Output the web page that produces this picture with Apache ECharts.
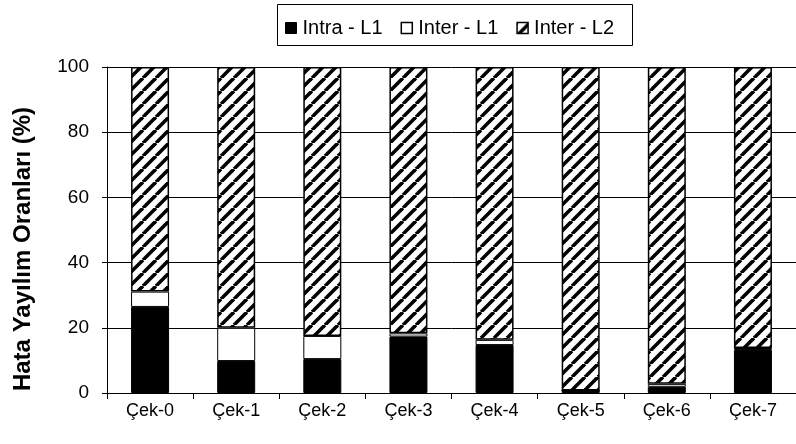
<!DOCTYPE html>
<html>
<head>
<meta charset="utf-8">
<script src="https://cdn.jsdelivr.net/npm/echarts@6/dist/echarts.min.js"></script>
<style>
  html, body { margin: 0; padding: 0; background: #fff; }
  #chart { width: 796px; height: 444px; }
</style>
</head>
<body>
<div id="chart"></div>
<script>
// Error distribution per check (percent), stacked to 100
const categories = ['Çek-0', 'Çek-1', 'Çek-2', 'Çek-3', 'Çek-4', 'Çek-5', 'Çek-6', 'Çek-7'];
const intraL1 = [26.4, 9.8, 10.4, 17.3, 14.7, 0.8, 1.9, 13.2];
const interL1 = [4.7, 10.2, 7.1, 1.0, 1.6, 0.0, 0.9, 0.6];
const interL2 = [68.9, 80.0, 82.5, 81.7, 83.7, 99.2, 97.2, 86.2];
const yTicks = { min: 0, max: 100, interval: 20 };

// Diagonal hatch fill for the Inter - L2 segments
function makeHatch() {
  const s = 13;
  const c = document.createElement('canvas');
  c.width = s; c.height = s;
  const g = c.getContext('2d');
  g.fillStyle = '#fff';
  g.fillRect(0, 0, s, s);
  g.strokeStyle = '#000';
  g.lineWidth = 3.6;
  for (const k of [-s, 0, s]) {
    g.beginPath();
    g.moveTo(k, s);
    g.lineTo(k + s, 0);
    g.stroke();
  }
  return c;
}
const hatch = { image: makeHatch(), repeat: 'repeat' };

const font = '"Liberation Sans", Arial, sans-serif';
const chart = echarts.init(document.getElementById('chart'), null, { renderer: 'canvas' });

const barBase = { type: 'bar', stack: 'total', barWidth: 38 };

chart.setOption({
  animation: false,
  backgroundColor: '#fff',
  textStyle: { fontFamily: font, color: '#000' },
  grid: { left: 107, top: 67, bottom: 51, width: 692, containLabel: false },
  graphic: [{
    type: 'rect',
    shape: { x: 277.5, y: 4.5, width: 355, height: 41 },
    style: { fill: 'none', stroke: '#000', lineWidth: 1 },
    z: 10
  }],
  legend: {
    top: 13,
    left: 280,
    itemWidth: 11,
    itemHeight: 11,
    itemGap: 18,
    textStyle: { fontFamily: font, fontSize: 20, color: '#000', padding: [0, 0, 0, 1] },
    data: [
      { name: 'Intra - L1', icon: 'rect', itemStyle: { color: '#000', borderColor: '#000', borderWidth: 1 } },
      { name: 'Inter - L1', icon: 'rect', itemStyle: { color: '#fff', borderColor: '#000', borderWidth: 1.5 } },
      { name: 'Inter - L2', icon: 'rect', itemStyle: { color: hatch, borderColor: '#000', borderWidth: 1.5 } }
    ]
  },
  xAxis: {
    type: 'category',
    data: categories,
    boundaryGap: true,
    axisLine: { lineStyle: { color: '#000', width: 1 } },
    axisTick: { show: true, alignWithLabel: false, length: 6, lineStyle: { color: '#000' } },
    axisLabel: { fontFamily: font, fontSize: 18, color: '#000', margin: 9 }
  },
  yAxis: {
    type: 'value',
    min: yTicks.min,
    max: yTicks.max,
    interval: yTicks.interval,
    name: 'Hata Yayılım Oranları (%)',
    nameLocation: 'middle',
    nameGap: 72,
    nameRotate: 90,
    nameTextStyle: { fontFamily: font, fontSize: 24, fontWeight: 'bold', color: '#000', padding: [0, 38, 0, 0] },
    axisLine: { show: true, lineStyle: { color: '#000', width: 1 } },
    axisTick: { show: true, length: 5, lineStyle: { color: '#000' } },
    axisLabel: { fontFamily: font, fontSize: 19, color: '#000', margin: 18 },
    splitLine: { show: true, lineStyle: { color: '#000', width: 1 } }
  },
  series: [
    Object.assign({}, barBase, {
      name: 'Intra - L1', data: intraL1,
      itemStyle: { color: '#000', borderColor: '#000', borderWidth: 1 }
    }),
    Object.assign({}, barBase, {
      name: 'Inter - L1', data: interL1,
      itemStyle: { color: '#fff', borderColor: '#000', borderWidth: 1 }
    }),
    Object.assign({}, barBase, {
      name: 'Inter - L2', data: interL2,
      itemStyle: { color: hatch, borderColor: '#000', borderWidth: 1.5 }
    })
  ]
});
</script>
</body>
</html>
